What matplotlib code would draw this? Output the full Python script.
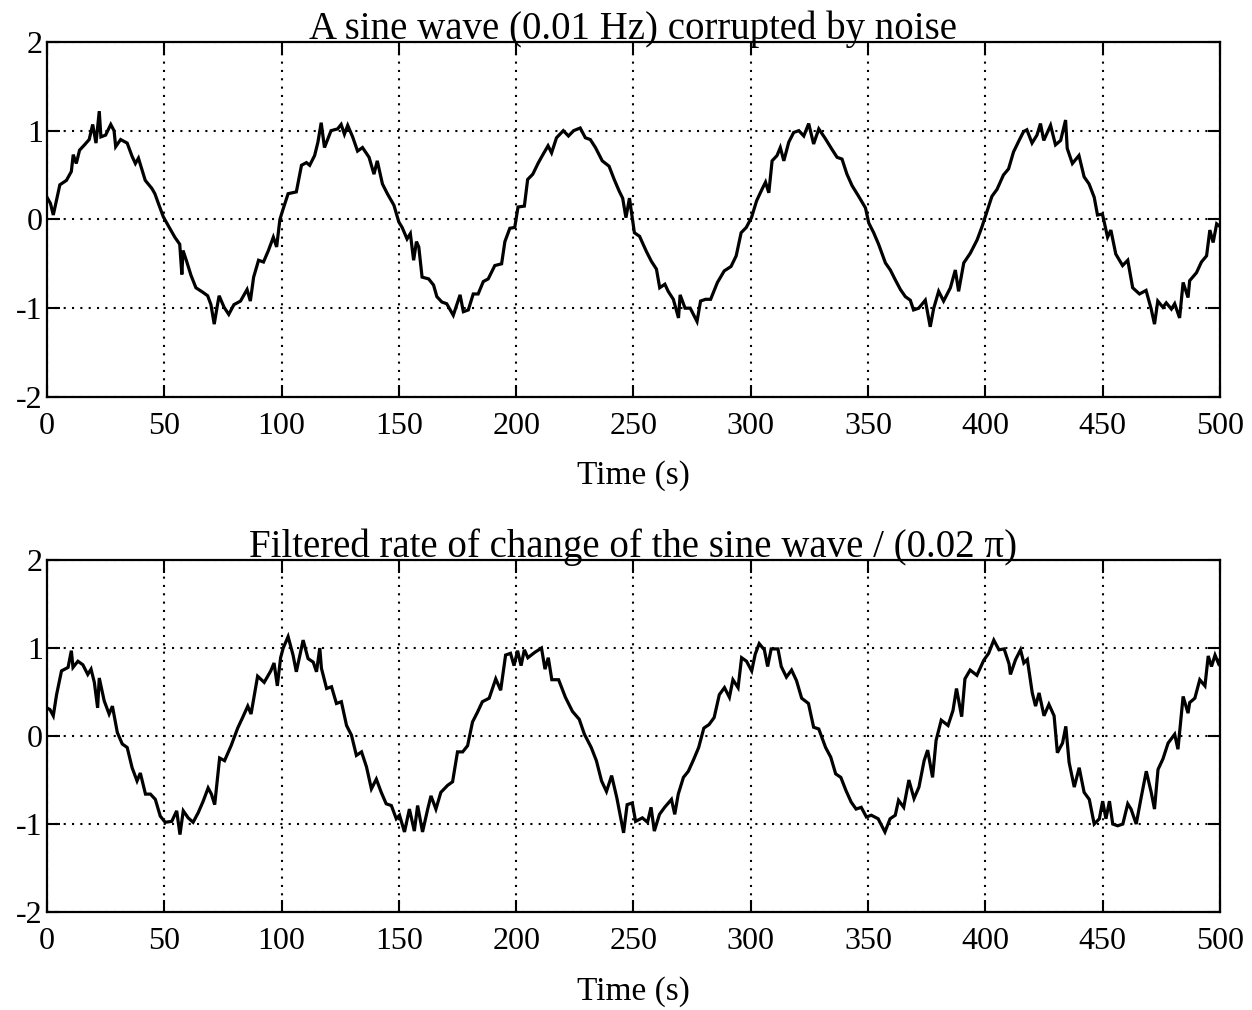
import matplotlib
matplotlib.use("Agg")
import matplotlib.pyplot as plt
import numpy as np

plt.rcParams["font.family"] = ["Liberation Serif", "DejaVu Serif"]
plt.rcParams["axes.unicode_minus"] = False

# Noisy sine wave (0.01 Hz): time (s) and amplitude
t_raw = [0, 1.5, 2.7, 5.5, 8.3, 10.4, 11.2, 12.5, 13.9, 16, 18, 19.5, 20.9, 22.3, 23, 25,
         27.2, 28.6, 29.3, 31.4, 34.2, 36.3, 37.7, 39, 41.9, 44.7, 46, 47.5, 49.6, 51.7,
         54.5, 56.6, 57.5, 58, 59.4, 61.4, 63.5, 66.4, 68.5, 69.9, 71.3, 72.7, 73.4, 75.5,
         77.5, 79.7, 82.5, 85.3, 86.7, 88.1, 90.2, 92.3, 94.4, 96.5, 97.9, 99.3, 100.7,
         102.8, 106.3, 108.5, 110.6, 112, 114.1, 115.5, 116.9, 118.3, 121.1, 123.9, 125.4,
         126.8, 128.2, 130.3, 132.4, 134.5, 137.3, 139.4, 140.8, 143, 145.1, 147.9, 150,
         151.4, 153.5, 154.9, 156.3, 157.5, 158.5, 159.9, 162.7, 164.8, 166.2, 168.3, 170.4,
         173.2, 176.1, 177.5, 179.6, 181.7, 183.8, 186, 188.1, 190.9, 193.8, 195.2, 197.3,
         199.4, 200.8, 203.5, 204.9, 207.1, 209.5, 211.4, 213.6, 215.1, 217.2, 220.1, 222.3,
         224.5, 227.3, 229.5, 231.6, 233.8, 236.7, 239.6, 241.8, 243.9, 245.4, 246.8, 248.3,
         250.4, 252.6, 255.5, 257.6, 259.8, 261.2, 263.4, 264.8, 267, 269.2, 269.9, 272,
         274.2, 277.1, 278.6, 280.7, 282.9, 285.8, 288.7, 291.6, 293.8, 295.9, 298.1, 300.3,
         302.5, 304.8, 306.3, 307.7, 309.1, 311.2, 312.6, 314.1, 316.2, 318.3, 320.5, 322.6,
         324.7, 326.8, 329, 331.8, 334.6, 336.8, 338.9, 341, 343.2, 346, 348.9, 350.3, 352.4,
         354.5, 357.4, 359.5, 361.6, 363.8, 365.9, 368, 369.4, 371.6, 374.4, 376.5, 378,
         380.1, 382.2, 385.1, 387.2, 388.6, 390.8, 393.6, 396.5, 398.6, 400.7, 402.8, 405,
         407.7, 409.9, 412, 414.2, 416.3, 417.7, 419.9, 422, 423.5, 424.9, 427.8, 429.9,
         432.1, 434.2, 434.9, 437.1, 439.9, 442.1, 444.2, 446.4, 447.8, 449.9, 452.1, 453.5,
         455.6, 458.5, 460.7, 462.8, 465.7, 468.5, 470.7, 472.1, 473.5, 475.7, 477.1, 479.3,
         480.7, 482.8, 484.3, 486.4, 487.1, 490, 492.1, 494.3, 495.7, 497.1, 498.6, 500]
y_raw = [0.25, 0.18, 0.05, 0.39, 0.44, 0.54, 0.73, 0.63, 0.78, 0.84, 0.9, 1.07, 0.86, 1.22,
         0.93, 0.95, 1.07, 1.0, 0.82, 0.9, 0.86, 0.71, 0.63, 0.69, 0.44, 0.35, 0.29, 0.18,
         0.03, -0.07, -0.2, -0.28, -0.62, -0.35, -0.46, -0.63, -0.77, -0.82, -0.86, -0.96,
         -1.18, -0.96, -0.86, -0.99, -1.07, -0.96, -0.92, -0.79, -0.92, -0.65, -0.46, -0.48,
         -0.35, -0.2, -0.31, 0.0, 0.12, 0.29, 0.31, 0.61, 0.64, 0.61, 0.72, 0.87, 1.09, 0.81,
         1.0, 1.02, 1.07, 0.96, 1.06, 0.93, 0.77, 0.81, 0.7, 0.51, 0.66, 0.4, 0.29, 0.16,
         -0.03, -0.09, -0.22, -0.16, -0.46, -0.25, -0.31, -0.65, -0.67, -0.74, -0.87, -0.93,
         -0.95, -1.08, -0.85, -1.04, -1.02, -0.84, -0.84, -0.7, -0.67, -0.52, -0.5, -0.25,
         -0.1, -0.09, 0.14, 0.15, 0.45, 0.51, 0.64, 0.73, 0.83, 0.75, 0.92, 1.0, 0.94, 1.0,
         1.03, 0.92, 0.9, 0.81, 0.66, 0.6, 0.45, 0.32, 0.24, 0.02, 0.24, -0.15, -0.19, -0.36,
         -0.47, -0.56, -0.77, -0.73, -0.81, -0.9, -1.11, -0.85, -1.0, -1.0, -1.15, -0.92,
         -0.9, -0.9, -0.71, -0.58, -0.53, -0.41, -0.15, -0.09, 0.02, 0.21, 0.34, 0.42, 0.3,
         0.66, 0.72, 0.81, 0.66, 0.87, 0.98, 1.0, 0.94, 1.08, 0.85, 1.02, 0.91, 0.79, 0.7,
         0.68, 0.51, 0.38, 0.26, 0.13, -0.04, -0.15, -0.28, -0.49, -0.57, -0.68, -0.79,
         -0.87, -0.91, -1.02, -1.0, -0.91, -1.21, -1.0, -0.81, -0.92, -0.77, -0.57, -0.81,
         -0.49, -0.38, -0.23, -0.08, 0.09, 0.26, 0.34, 0.5, 0.57, 0.76, 0.88, 0.99, 1.01,
         0.86, 0.95, 1.08, 0.89, 1.06, 0.84, 0.89, 1.12, 0.8, 0.63, 0.72, 0.48, 0.4, 0.25,
         0.05, 0.06, -0.2, -0.12, -0.39, -0.52, -0.46, -0.77, -0.84, -0.8, -1.01, -1.18,
         -0.92, -0.99, -0.94, -1.01, -0.95, -1.11, -0.71, -0.88, -0.69, -0.6, -0.48, -0.41,
         -0.12, -0.26, -0.05, -0.08]

# Filtered rate of change, scaled by 1/(0.02 pi)
t_rate = [0, 1.3, 2.7, 4.1, 6.2, 9, 10.4, 11.1, 13.2, 15.3, 17.4, 18.8, 20.2, 21.6, 22.3,
          24.4, 26.5, 27.9, 30, 32.1, 34.2, 36.3, 38.4, 39.8, 42, 44.1, 46.2, 48.3, 50.4,
          53.2, 55.3, 56.7, 58.1, 60.2, 62.3, 64.5, 66.6, 68.7, 70.1, 71.5, 73.6, 75.7,
          78.5, 81.3, 83.4, 85.6, 87, 89.8, 92.6, 95.4, 96.8, 98.2, 99.6, 100.7, 102.8,
          104.9, 106.3, 109.2, 111.3, 113.5, 114.9, 116.3, 117, 119.2, 121.3, 123.4, 125.5,
          127.7, 129.8, 131.9, 134.1, 136.2, 138.3, 140.4, 142.5, 144.6, 146.8, 148.9,
          150.3, 152.4, 154.5, 156.6, 158, 160.1, 162.3, 163.7, 165.8, 167.9, 170.8, 172.9,
          175, 177.2, 179.3, 181.4, 183.5, 185.6, 188.5, 191.3, 193.4, 195.5, 197.6, 199.1,
          200.6, 202.1, 203.5, 205, 207.9, 210.8, 212.3, 213.7, 215.2, 218.1, 221, 224,
          226.9, 229.1, 232, 234.2, 236.4, 238.5, 240.7, 242.9, 245.8, 247.3, 249.5, 250.9,
          253.8, 256, 257.5, 258.9, 261.1, 263.3, 266.2, 267.6, 269.1, 271.3, 273.4, 275.6,
          277.8, 280, 282.2, 284.4, 286.6, 288.8, 290.9, 292.4, 294.6, 296.1, 298.2, 300.4,
          301.9, 303.6, 305.8, 307.2, 308.7, 311.6, 313, 315.2, 317.4, 319.5, 321.7, 324.6,
          326.8, 329, 331.9, 334.1, 336.2, 338.4, 340.6, 342.8, 344.9, 347.1, 349.3, 351.4,
          354.3, 357.2, 359.4, 361.6, 363, 365.2, 367.4, 369.6, 371.7, 373.9, 375.4, 377.5,
          379, 381.2, 384.1, 386.2, 387.7, 389.9, 391.3, 393.5, 396.4, 399.3, 401.4, 403.6,
          405.8, 408, 410.1, 410.7, 412.9, 415, 416.4, 417.9, 420, 421.4, 422.9, 425, 427.1,
          429.3, 430.7, 432.9, 434.3, 435.7, 437.9, 440, 442.1, 444.3, 446.4, 448.6, 450,
          451.4, 452.9, 454.3, 456.4, 458.6, 460.7, 462.1, 464.3, 466.4, 468.6, 470.7,
          472.1, 473.6, 475.7, 477.9, 480.7, 482.1, 484.3, 486.4, 487.1, 489.3, 491.4,
          493.6, 495, 496.4, 497.9, 499.3, 500]
y_rate = [0.32, 0.3, 0.23, 0.47, 0.74, 0.78, 0.97, 0.78, 0.85, 0.81, 0.7, 0.76, 0.61, 0.32,
          0.66, 0.4, 0.25, 0.34, 0.04, -0.09, -0.13, -0.36, -0.51, -0.42, -0.66, -0.66,
          -0.72, -0.91, -0.98, -0.97, -0.85, -1.12, -0.85, -0.93, -0.98, -0.87, -0.74,
          -0.59, -0.66, -0.78, -0.25, -0.28, -0.11, 0.09, 0.21, 0.34, 0.25, 0.68, 0.61,
          0.74, 0.83, 0.57, 0.89, 1.0, 1.13, 0.92, 0.73, 1.09, 0.88, 0.84, 0.73, 1.0, 0.77,
          0.54, 0.56, 0.37, 0.39, 0.12, 0.01, -0.22, -0.18, -0.35, -0.6, -0.49, -0.64,
          -0.77, -0.79, -0.94, -0.9, -1.09, -0.83, -1.08, -0.79, -1.09, -0.83, -0.68,
          -0.83, -0.64, -0.56, -0.52, -0.18, -0.18, -0.11, 0.16, 0.27, 0.39, 0.43, 0.65,
          0.52, 0.92, 0.94, 0.8, 0.97, 0.8, 0.98, 0.89, 0.95, 1.0, 0.76, 0.89, 0.64, 0.64,
          0.44, 0.28, 0.19, 0.02, -0.13, -0.28, -0.51, -0.63, -0.45, -0.7, -1.1, -0.78,
          -0.76, -0.97, -0.93, -0.98, -0.81, -1.08, -0.89, -0.81, -0.72, -0.89, -0.66,
          -0.47, -0.4, -0.27, -0.13, 0.09, 0.13, 0.21, 0.47, 0.55, 0.44, 0.64, 0.55, 0.89,
          0.85, 0.74, 0.93, 1.05, 0.98, 0.79, 0.99, 0.99, 0.79, 0.67, 0.75, 0.63, 0.43,
          0.37, 0.1, 0.08, -0.13, -0.24, -0.43, -0.47, -0.62, -0.75, -0.83, -0.81, -0.92,
          -0.9, -0.94, -1.09, -0.94, -0.9, -0.73, -0.81, -0.5, -0.71, -0.58, -0.28, -0.16,
          -0.47, -0.05, 0.18, 0.12, 0.29, 0.54, 0.22, 0.65, 0.75, 0.69, 0.86, 0.94, 1.09,
          0.98, 0.99, 0.82, 0.7, 0.87, 0.98, 0.83, 0.87, 0.49, 0.34, 0.49, 0.23, 0.36, 0.23,
          -0.19, -0.08, 0.11, -0.3, -0.58, -0.36, -0.64, -0.72, -1.0, -0.94, -0.74, -0.94,
          -0.74, -1.0, -1.02, -1.0, -0.77, -0.83, -1.0, -0.7, -0.4, -0.64, -0.83, -0.38,
          -0.26, -0.08, 0.02, -0.15, 0.45, 0.26, 0.38, 0.43, 0.64, 0.57, 0.91, 0.79, 0.92,
          0.83, 0.87]

x_ticks = [0, 50, 100, 150, 200, 250, 300, 350, 400, 450, 500]
y_ticks = [-2, -1, 0, 1, 2]
titles = ["A sine wave (0.01 Hz) corrupted by noise",
          "Filtered rate of change of the sine wave / (0.02 \u03c0)"]
x_label = "Time (s)"

fig = plt.figure(figsize=(12.52, 10.10), dpi=100)
ax_top = fig.add_axes([0.0375, 0.607, 0.9369, 0.3515])
ax_bot = fig.add_axes([0.0375, 0.097, 0.9369, 0.3485])

for ax, (t, y), title in zip([ax_top, ax_bot], [(t_raw, y_raw), (t_rate, y_rate)], titles):
    ax.plot(t, y, color="black", linewidth=2.3, solid_joinstyle="miter")
    ax.set_xlim(0, 500)
    ax.set_ylim(-2, 2)
    ax.set_xticks(x_ticks)
    ax.set_yticks(y_ticks)
    ax.grid(True, color="black", linestyle=(0, (1, 3.0)), linewidth=1.5)
    ax.tick_params(direction="in", length=9, width=1.5, top=True, right=True,
                   labelsize=23, pad=11)
    ax.tick_params(axis="y", pad=3)
    for s in ax.spines.values():
        s.set_linewidth(1.6)
    ax.set_title(title, fontsize=28, pad=2)
    ax.set_xlabel(x_label, fontsize=24, labelpad=14)

fig.savefig("out.png", dpi=100, facecolor="white")
